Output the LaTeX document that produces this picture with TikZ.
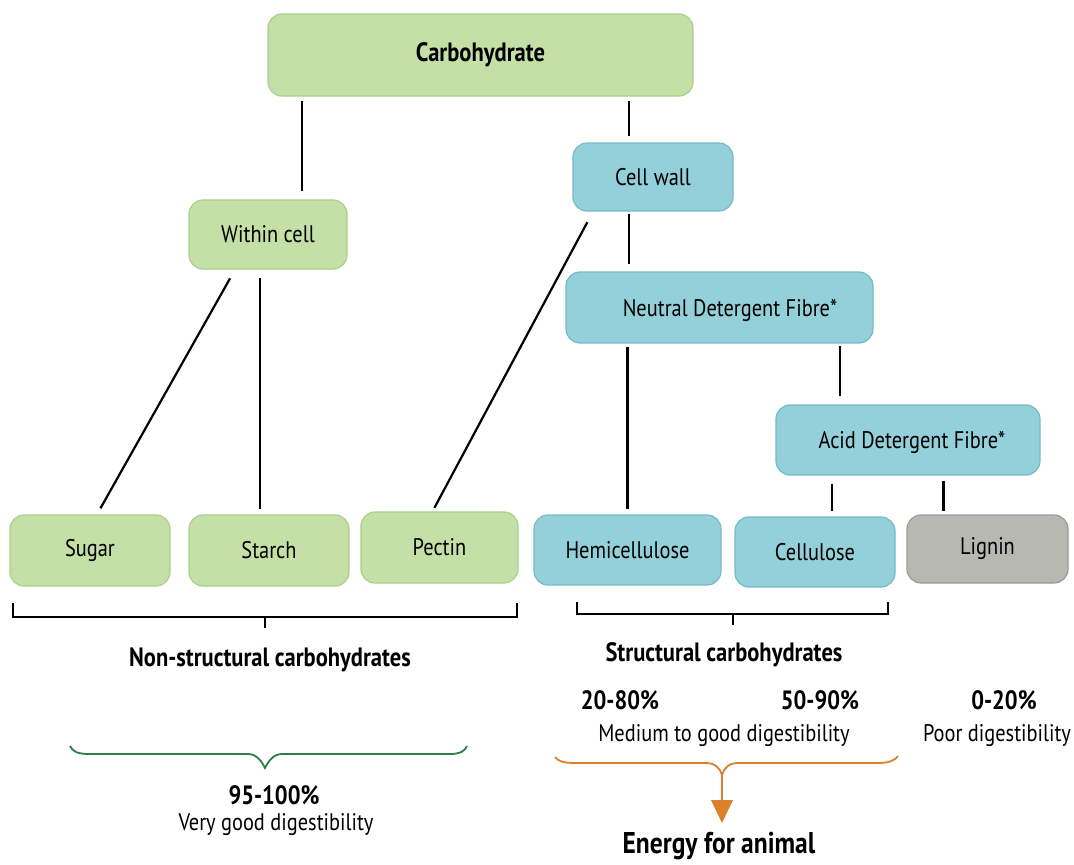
\documentclass[tikz,border=0pt]{standalone}
\usepackage{fontspec}
\setmainfont{PT Sans}[FakeStretch=0.85]
\usetikzlibrary{calc}
\definecolor{gfill}{HTML}{C5E0A6}
\definecolor{gline}{HTML}{A8CF8C}
\definecolor{bfill}{HTML}{93D0D9}
\definecolor{bline}{HTML}{75BAC6}
\definecolor{yfill}{HTML}{B6B8B1}
\definecolor{yline}{HTML}{999B95}
\definecolor{brgreen}{HTML}{2E7D4A}
\definecolor{brorange}{HTML}{D9822B}
\newcommand{\regfont}{\fontsize{24}{28}\selectfont}
\newcommand{\boldfont}{\fontsize{26.5}{30}\selectfont\bfseries}
\tikzset{
  box/.style={rounded corners=14pt, line width=1.2pt, inner sep=0pt, font=\regfont},
  gbox/.style={box, fill=gfill, draw=gline},
  bbox/.style={box, fill=bfill, draw=bline},
  ybox/.style={box, fill=yfill, draw=yline},
  conn/.style={line width=2.2pt, black},
  lbl/.style={font=\regfont, inner sep=0pt},
  blbl/.style={font=\boldfont, inner sep=0pt},
}
\begin{document}
\begin{tikzpicture}[x=1pt,y=-1pt]
\useasboundingbox (0,0) rectangle (1074,865);
% boxes
\node[gbox, minimum width=425pt, minimum height=82pt, font=\boldfont] (carb) at (480.5,55) {Carbohydrate};
\node[bbox, minimum width=160pt, minimum height=68pt] (cell) at (653,177) {Cell wall};
\node[gbox, minimum width=158pt, minimum height=69pt] (within) at (268,234.5) {Within cell};
\node[bbox, minimum width=307pt, minimum height=71pt] (ndf) at (719.5,307.5) {};
\node[lbl] (ndft) at (730,310) {Neutral Detergent Fibre*};
\node[bbox, minimum width=264pt, minimum height=70pt] (adf) at (908,440) {};
\node[lbl] (adft) at (912,442) {Acid Detergent Fibre*};
\node[gbox, minimum width=160pt, minimum height=71pt] (sugar) at (90,550.5) {Sugar};
\node[gbox, minimum width=160pt, minimum height=71pt] (starch) at (269,550.5) {Starch};
\node[gbox, minimum width=157pt, minimum height=71pt] (pectin) at (439.5,547.5) {Pectin};
\node[bbox, minimum width=187pt, minimum height=70pt] (hemi) at (627.5,550) {Hemicellulose};
\node[bbox, minimum width=160pt, minimum height=70pt] (cellu) at (815,552) {Cellulose};
\node[ybox, minimum width=161pt, minimum height=68pt] (lignin) at (987.5,549) {Lignin};
% connectors
\draw[conn, shorten <=4pt, shorten >=8pt] ([xshift=34pt]within.north |- carb.south) -- ([xshift=34pt]within.north);
\draw[conn, shorten <=4pt, shorten >=6pt] ([xshift=-24pt]cell.north |- carb.south) -- ([xshift=-24pt]cell.north);
\draw[conn, shorten <=2pt, shorten >=7pt] ([xshift=-24pt]cell.south) -- ([xshift=-24pt]cell.south |- ndf.north);
\draw[conn, shorten <=10pt, shorten >=7pt] ([xshift=-33pt]within.south) -- ([xshift=7pt]sugar.north);
\draw[conn, shorten <=8pt, shorten >=5pt] ([xshift=-8pt]within.south) -- ([xshift=-9pt]starch.north);
\draw[conn, shorten <=12pt, shorten >=4pt] ([xshift=-60pt]cell.south) -- ([xshift=-7pt]pectin.north);
\draw[conn, line width=2.9pt, shorten <=3pt, shorten >=5pt] (hemi.north |- ndf.south) -- (hemi.north);
\draw[conn, shorten <=2pt, shorten >=8pt] ([xshift=-68pt]adf.north |- ndf.south) -- ([xshift=-68pt]adf.north);
\draw[conn, line width=2.7pt, shorten <=8pt, shorten >=5pt] ([xshift=17pt]cellu.north |- adf.south) -- ([xshift=17pt]cellu.north);
\draw[conn, shorten <=5pt, shorten >=3pt] ([xshift=-44pt]lignin.north |- adf.south) -- ([xshift=-44pt]lignin.north);
% brackets
\draw[line width=2.2pt] (13,603) -- (13,617) -- (517,617) -- (517,603);
\draw[line width=2.2pt] (265,617) -- (265,628);
\draw[line width=1.7pt] (577,602) -- (577,614) -- (888,614) -- (888,602);
\draw[line width=1.7pt] (733,614) -- (733,625);
% labels
\node[blbl] (nsc) at (270,660) {Non-structural carbohydrates};
\node[blbl] (sc) at (724,655) {Structural carbohydrates};
\node[blbl] (p1) at (620,700) {20-80\%};
\node[blbl] (p2) at (820,700) {50-90\%};
\node[blbl] (p3) at (1004,700) {0-20\%};
\node[lbl] (mg) at (724,736) {Medium to good digestibility};
\node[lbl] (pd) at (997,736) {Poor digestibility};
\node[blbl] (p4) at (274,795) {95-100\%};
\node[lbl] (vg) at (276,825) {Very good digestibility};
\node[font=\fontsize{30}{34}\selectfont\bfseries, inner sep=0pt] (en) at (719,846) {Energy for animal};
% green brace
\draw[brgreen, line width=1.8pt] (70,746) .. controls (73,752) and (78,754) .. (90,754) -- (248,754)
  .. controls (257,754) and (262,762) .. (265,768) .. controls (268,762) and (273,754) .. (282,754)
  -- (450,754) .. controls (460,754) and (465,751) .. (467,746);
% orange brace + arrow
\draw[brorange, line width=1.8pt] (555,757) .. controls (558,761) and (563,763) .. (575,763) -- (706,763)
  .. controls (715,763) and (720,768) .. (722,775) .. controls (724,768) and (729,763) .. (738,763)
  -- (878,763) .. controls (890,763) and (895,760) .. (898,756);
\coordinate (atop) at (722,775);
\coordinate (abot) at (722,801);
\draw[brorange, line width=1.8pt] (atop) -- (abot);
\fill[brorange] (711,800) -- (733,800) -- (722,823) -- cycle;
\end{tikzpicture}
\end{document}
